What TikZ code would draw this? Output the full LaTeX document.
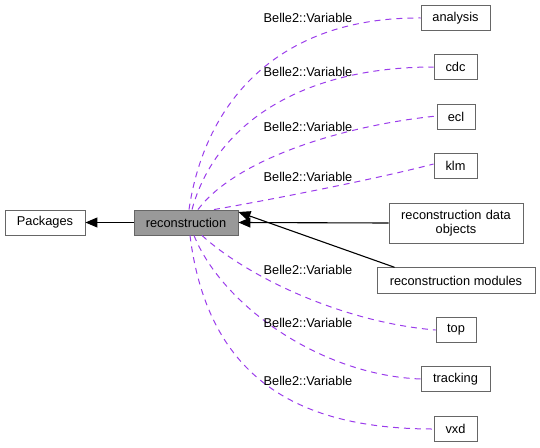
\documentclass[tikz,border=0pt]{standalone}
\usepackage{fontspec}
\setmainfont{Liberation Sans}
\usetikzlibrary{arrows.meta}
\definecolor{edgepurple}{RGB}{155,60,235}
\definecolor{boxline}{RGB}{102,102,102}
\definecolor{boxfill}{RGB}{153,153,153}
\tikzset{
  pkg/.style={draw=boxline, fill=white, line width=0.9pt, inner sep=0pt, align=center,
    font=\fontsize{12.8}{14.5}\selectfont},
  curpkg/.style={pkg, fill=boxfill},
  uses/.style={draw=edgepurple, line width=1pt, dash pattern=on 6pt off 5pt},
  dep/.style={draw=black, line width=1.1pt, -{Triangle[length=12pt,width=10pt]}},
  lbl/.style={font=\fontsize{12.8}{14.5}\selectfont, inner sep=0pt}
}
\begin{document}
\begin{tikzpicture}[x=1pt,y=-1pt]
\useasboundingbox (0,0) rectangle (540,447);
% nodes
\node[pkg, minimum width=80, minimum height=25] (packages) at (45,222.5) {Packages};
\node[curpkg, minimum width=104, minimum height=25] (reco) at (186,222.5) {reconstruction};
\node[pkg, minimum width=69, minimum height=25.5] (analysis) at (455.5,18) {analysis};
\node[pkg, minimum width=43, minimum height=25.5] (cdc) at (455.5,67) {cdc};
\node[pkg, minimum width=38, minimum height=25.5] (ecl) at (456,117) {ecl};
\node[pkg, minimum width=43, minimum height=25.5] (klm) at (455.5,166) {klm};
\node[pkg, minimum width=134, minimum height=40, text width=125] (rdo) at (456,223) {reconstruction data\\objects};
\node[pkg, minimum width=158, minimum height=25.5] (rmod) at (456,280.5) {reconstruction modules};
\node[pkg, minimum width=40, minimum height=25.5] (top) at (456,330) {top};
\node[pkg, minimum width=69, minimum height=25.5] (tracking) at (455.5,379) {tracking};
\node[pkg, minimum width=43, minimum height=25.5] (vxd) at (455.5,429) {vxd};
\coordinate (rm) at ([xshift=18]rmod.north west);
% solid dependencies
\draw[dep] (reco.west) -- (packages.east);
\draw[dep] (rdo.west) -- (reco.east);
\draw[dep] (rm) -- ([yshift=10.5]reco.east);
% dashed uses
\draw[uses] ([xshift=3]reco.north) .. controls (205,100) and (280,17) .. (analysis.west);
\draw[uses] ([xshift=6]reco.north) .. controls (215,125) and (300,67) .. (cdc.west);
\draw[uses] ([xshift=12]reco.north) .. controls (235,160) and (340,126) .. ([yshift=1]ecl.west);
\draw[uses] ([xshift=28]reco.north) .. controls (280,198) and (380,178) .. ([yshift=2]klm.west);
\draw[uses] ([xshift=16]reco.south) .. controls (245,275) and (340,322) .. (top.west);
\draw[uses] ([xshift=8]reco.south) .. controls (222,305) and (320,375) .. (tracking.west);
\draw[uses] ([xshift=4]reco.south) .. controls (208,380) and (300,429) .. (vxd.west);
% labels
\node[lbl] (l1) at (308,18) {Belle2::Variable};
\node[lbl] (l2) at (308,72) {Belle2::Variable};
\node[lbl] (l3) at (308,127) {Belle2::Variable};
\node[lbl] (l4) at (308,177) {Belle2::Variable};
\node[lbl] (l5) at (308,270) {Belle2::Variable};
\node[lbl] (l6) at (308,323) {Belle2::Variable};
\node[lbl] (l7) at (308,381) {Belle2::Variable};
\end{tikzpicture}
\end{document}
